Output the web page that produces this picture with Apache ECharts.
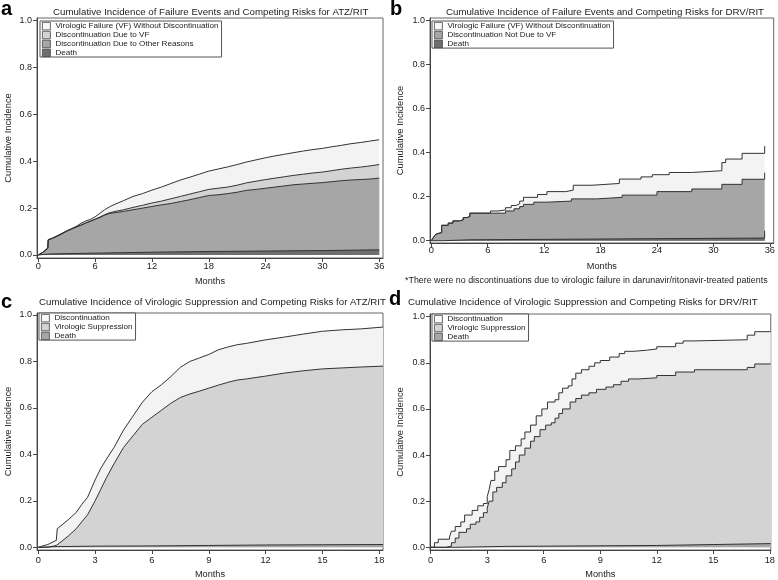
<!DOCTYPE html>
<html><head><meta charset="utf-8">
<script src="https://cdn.jsdelivr.net/npm/echarts@6/dist/echarts.min.js"></script>
<style>html,body{margin:0;padding:0;background:#fff}#c{width:778px;height:580px}</style>
</head><body><div id="c"></div>
<script>
const FONT = "'Liberation Sans', Arial, Helvetica, sans-serif";
const yTicks = [0, 0.2, 0.4, 0.6, 0.8, 1.0];
const xTicks36 = [0, 6, 12, 18, 24, 30, 36];
const xTicks18 = [0, 3, 6, 9, 12, 15, 18];

// Panel a: ATZ/RIT failure events (cumulative boundaries)
const aMonths = [0,0.5,1,1.05,1.5,2,2.5,3,3.5,4,4.5,5,5.5,6,6.5,7,7.5,8,9,10,11,12,13,14,15,16,17,18,19,20,21,22,23,24,25,26,27,28,29,30,31,32,33,34,35,36];
const aVF  = [0,0.012,0.03,0.065,0.072,0.082,0.092,0.103,0.112,0.122,0.135,0.145,0.152,0.163,0.178,0.193,0.205,0.215,0.232,0.25,0.262,0.277,0.29,0.305,0.32,0.332,0.345,0.358,0.367,0.376,0.386,0.397,0.406,0.415,0.423,0.43,0.437,0.444,0.45,0.455,0.462,0.468,0.475,0.48,0.486,0.492];
const aDVF = [0,0.012,0.03,0.065,0.072,0.082,0.092,0.103,0.112,0.12,0.128,0.137,0.145,0.153,0.162,0.172,0.18,0.185,0.193,0.203,0.212,0.222,0.23,0.24,0.25,0.26,0.27,0.28,0.285,0.29,0.298,0.308,0.315,0.322,0.328,0.334,0.34,0.345,0.35,0.354,0.36,0.366,0.371,0.375,0.38,0.386];
const aDOR = [0,0.012,0.028,0.064,0.071,0.08,0.09,0.101,0.11,0.119,0.127,0.136,0.144,0.152,0.16,0.17,0.177,0.18,0.186,0.193,0.2,0.207,0.214,0.22,0.228,0.236,0.245,0.254,0.257,0.262,0.268,0.276,0.28,0.285,0.29,0.295,0.3,0.303,0.306,0.309,0.313,0.317,0.32,0.322,0.324,0.328];
const aDeathMonths = [0,1,3,6,9,12,18,24,30,36];
const aDeath = [0,0.004,0.006,0.008,0.01,0.012,0.015,0.017,0.019,0.022];

// Panel b: DRV/RIT failure events (step functions)
const bTopT = [0,0.15,0.3,0.5,0.7,1.1,1.8,2.3,3.0,3.4,3.8,4.1,6.3,7.1,7.9,8.5,9.0,9.4,9.8,11.3,12.3,14.3,15.1,17.1,20.0,22.3,23.5,25.3,27.7,30.9,31.3,33.05,35.45];
const bTopV = [0,0.01,0.02,0.03,0.037,0.07,0.08,0.09,0.095,0.105,0.11,0.125,0.135,0.14,0.15,0.16,0.168,0.18,0.197,0.21,0.223,0.23,0.252,0.26,0.28,0.29,0.30,0.31,0.318,0.355,0.371,0.397,0.43];
const bDNT = [0,0.15,0.3,0.5,0.7,1.1,1.8,2.3,3.0,3.4,3.8,4.1,7.9,8.8,9.4,9.8,10.9,12.3,14.9,17.6,20.3,24.0,27.7,30.9,33.05,35.45];
const bDNV = [0,0.01,0.02,0.03,0.037,0.07,0.08,0.09,0.095,0.105,0.11,0.125,0.135,0.145,0.155,0.165,0.175,0.18,0.19,0.197,0.207,0.223,0.235,0.256,0.279,0.309];
const bDeathT = [0,1.3,4.0,35.45];
const bDeath = [0,0.004,0.012,0.045];

// Panel c: ATZ/RIT virologic suppression
const cMonths = [0,0.5,0.95,1.0,1.3,1.6,2.0,2.3,2.6,3.0,3.3,3.6,4.0,4.5,5.0,5.5,6.0,6.5,7.0,7.5,8.0,8.5,9.0,9.5,10.0,10.5,11.0,12.0,13.0,14.0,15.0,16.0,17.0,18.2];
const cDisc = [0,0.012,0.03,0.08,0.1,0.12,0.15,0.185,0.215,0.29,0.34,0.38,0.43,0.505,0.565,0.625,0.67,0.70,0.735,0.775,0.80,0.815,0.83,0.85,0.862,0.872,0.878,0.893,0.905,0.918,0.93,0.936,0.94,0.948];
const cVS = [0,0,0.008,0.012,0.03,0.05,0.08,0.11,0.14,0.2,0.25,0.3,0.36,0.43,0.48,0.53,0.56,0.59,0.62,0.645,0.66,0.672,0.685,0.698,0.71,0.72,0.725,0.737,0.75,0.76,0.768,0.772,0.776,0.78];
const cDeathMonths = [0,1,3,6,9,12,15,18.2];
const cDeath = [0,0.003,0.005,0.006,0.008,0.01,0.011,0.012];

// Panel d: DRV/RIT virologic suppression (step functions)
const dTopT = [0,0.2,0.4,1.0,1.1,1.3,1.6,1.8,2.2,2.5,2.8,3.0,3.1,3.2,3.4,3.6,4.0,4.2,4.5,4.8,5.0,5.3,5.6,5.9,6.2,6.6,6.8,7.0,7.3,7.5,7.7,8.0,8.4,8.7,9.0,9.5,10.0,10.3,10.8,11.5,12.0,13.0,13.4,14.0,16.8,17.2,18.05];
const dTopV = [0,0.02,0.035,0.045,0.07,0.09,0.11,0.14,0.16,0.18,0.19,0.22,0.25,0.29,0.33,0.35,0.38,0.42,0.44,0.47,0.50,0.53,0.57,0.60,0.63,0.64,0.67,0.69,0.70,0.73,0.755,0.77,0.785,0.80,0.81,0.825,0.84,0.85,0.855,0.86,0.87,0.885,0.895,0.90,0.92,0.935,0.935];
const dVST = [0,0.8,1.1,1.3,1.5,1.9,2.1,2.4,2.6,2.8,3.0,3.1,3.3,3.5,3.8,4.0,4.3,4.5,4.7,5.0,5.3,5.5,5.8,6.1,6.4,6.6,6.8,7.0,7.4,7.7,8.0,8.4,8.8,9.3,9.7,10.1,10.5,11.0,12.0,13.0,14.0,16.8,17.2,18.05];
const dVSV = [0,0.005,0.02,0.04,0.065,0.08,0.10,0.11,0.13,0.15,0.17,0.2,0.24,0.26,0.28,0.31,0.34,0.37,0.40,0.43,0.46,0.48,0.51,0.53,0.54,0.56,0.58,0.60,0.63,0.645,0.66,0.67,0.685,0.695,0.705,0.72,0.73,0.735,0.745,0.76,0.77,0.78,0.795,0.795];
const dDeathT = [0,1.3,4.0,12.0,18.05];
const dDeath = [0,0.004,0.008,0.016,0.016];

const titles = [
  'Cumulative Incidence of Failure Events and Competing Risks for ATZ/RIT',
  'Cumulative Incidence of Failure Events and Competing Risks for DRV/RIT',
  'Cumulative Incidence of Virologic Suppression and Competing Risks for ATZ/RIT',
  'Cumulative Incidence of Virologic Suppression and Competing Risks for DRV/RIT'
];
const footnote = '*There were no discontinuations due to virologic failure in darunavir/ritonavir-treated patients';

const C_WHITE = '#f3f3f3', C_LIGHT = '#d3d3d3', C_MID = '#a6a6a6', C_DARK = '#6e6e6e';

const grids = [
  {left: 37, top: 18, width: 346, height: 240},
  {left: 430, top: 18, width: 345, height: 225},
  {left: 37, top: 313, width: 346, height: 238},
  {left: 430, top: 314, width: 345, height: 237}
];
const xRange = [[-0.137, 36.4], [-0.138, 36.41], [-0.069, 18.2], [-0.037, 18.05]];
const yRange = [[-0.0128, 1.0115], [-0.0105, 1.012], [-0.0116, 1.0086], [-0.0117, 1.0117]];
const xLabelMargin = [4, 3, 6, 6];
const xNameGap = [19, 19, 20, 20];

const txt = {fontFamily: FONT, color: '#222'};

function zip(xs, ys) { return xs.map((x, i) => [x, ys[i]]); }
function area(name, idx, xs, ys, color, step) {
  return {
    name, type: 'line', xAxisIndex: idx, yAxisIndex: idx, data: zip(xs, ys),
    step: step ? 'end' : false, showSymbol: false, symbol: 'none', silent: true,
    itemStyle: {color}, lineStyle: {color: '#333', width: 1},
    areaStyle: {color, opacity: 1}
  };
}

const xAxis = grids.map((g, i) => ({
  type: 'value', gridIndex: i, min: xRange[i][0], max: xRange[i][1],
  name: 'Months', nameLocation: 'middle', nameGap: xNameGap[i],
  nameTextStyle: Object.assign({fontSize: 9.2}, txt),
  axisLine: {show: true, onZero: false, lineStyle: {color: '#444', width: 1}},
  axisTick: {show: true, length: 4, lineStyle: {color: '#444'}, customValues: i < 2 ? xTicks36 : xTicks18},
  axisLabel: Object.assign({fontSize: 9.3, margin: xLabelMargin[i], customValues: i < 2 ? xTicks36 : xTicks18, showMinLabel: true, showMaxLabel: true}, txt),
  splitLine: {show: false}
}));
const yAxis = grids.map((g, i) => ({
  type: 'value', gridIndex: i, min: yRange[i][0], max: yRange[i][1],
  name: 'Cumulative Incidence', nameLocation: 'middle', nameGap: i % 2 ? 25 : 24,
  nameTextStyle: Object.assign({fontSize: 9.4}, txt),
  axisLine: {show: true, onZero: false, lineStyle: {color: '#444', width: 1}},
  axisTick: {show: true, length: 4, lineStyle: {color: '#444'}, customValues: yTicks},
  axisLabel: Object.assign({fontSize: 9, margin: 5, customValues: yTicks, formatter: v => v.toFixed(1)}, txt),
  splitLine: {show: false}
}));

const series = [
  area('Virologic Failure (VF) Without Discontinuation', 0, aMonths, aVF, C_WHITE, false),
  area('Discontinuation Due to VF', 0, aMonths, aDVF, C_LIGHT, false),
  area('Discontinuation Due to Other Reasons', 0, aMonths, aDOR, C_MID, false),
  area('Death', 0, aDeathMonths, aDeath, C_DARK, false),

  area('Virologic Failure (VF) Without Discontinuation', 1, bTopT, bTopV, C_WHITE, true),
  area('Discontinuation Not Due to VF', 1, bDNT, bDNV, C_MID, true),
  area('Death', 1, bDeathT, bDeath, C_DARK, true),

  area('Discontinuation', 2, cMonths, cDisc, C_WHITE, false),
  area('Virologic Suppression', 2, cMonths, cVS, C_LIGHT, false),
  area('Death', 2, cDeathMonths, cDeath, C_MID, false),

  area('Discontinuation', 3, dTopT, dTopV, C_WHITE, true),
  area('Virologic Suppression', 3, dVST, dVSV, C_LIGHT, true),
  area('Death', 3, dDeathT, dDeath, C_MID, true)
];

function legend(left, top, items) {
  return {
    left, top, orient: 'vertical', icon: 'rect', itemWidth: 8, itemHeight: 7.5, itemGap: 0.6,
    padding: [1, 3, 0, 2], borderColor: '#555', borderWidth: 1, backgroundColor: '#fff',
    selectedMode: false, textStyle: Object.assign({fontSize: 8.1, lineHeight: 8}, txt),
    lineStyle: {width: 0, opacity: 0},
    data: items.map(([name, color]) => ({name, itemStyle: {color, borderColor: '#444', borderWidth: 0.8}}))
  };
}

const option = {
  animation: false,
  backgroundColor: '#fff',
  grid: grids.map(g => Object.assign({show: true, borderColor: '#666', borderWidth: 1, backgroundColor: 'transparent', containLabel: false}, g)),
  title: [
    {text: titles[0], left: 53, top: 7, padding: 0, textStyle: Object.assign({fontSize: 9.7, fontWeight: 'normal'}, txt)},
    {text: titles[1], left: 446, top: 7, padding: 0, textStyle: Object.assign({fontSize: 9.7, fontWeight: 'normal'}, txt)},
    {text: titles[2], left: 39, top: 297, padding: 0, textStyle: Object.assign({fontSize: 9.7, fontWeight: 'normal'}, txt)},
    {text: titles[3], left: 408, top: 297, padding: 0, textStyle: Object.assign({fontSize: 9.7, fontWeight: 'normal'}, txt)},
    {text: 'a', left: 1, top: -1, padding: 0, textStyle: Object.assign({fontSize: 20, fontWeight: 'bold'}, txt, {color: '#000'})},
    {text: 'b', left: 390, top: -1, padding: 0, textStyle: Object.assign({fontSize: 20, fontWeight: 'bold'}, txt, {color: '#000'})},
    {text: 'c', left: 1, top: 292, padding: 0, textStyle: Object.assign({fontSize: 20, fontWeight: 'bold'}, txt, {color: '#000'})},
    {text: 'd', left: 389, top: 289, padding: 0, textStyle: Object.assign({fontSize: 20, fontWeight: 'bold'}, txt, {color: '#000'})},
    {text: footnote, left: 405, top: 276, padding: 0, textStyle: Object.assign({fontSize: 8.9, fontWeight: 'normal'}, txt)}
  ],
  legend: [
    legend(40, 21, [['Virologic Failure (VF) Without Discontinuation', '#f8f8f8'], ['Discontinuation Due to VF', C_LIGHT], ['Discontinuation Due to Other Reasons', C_MID], ['Death', C_DARK]]),
    legend(432, 21, [['Virologic Failure (VF) Without Discontinuation', '#f8f8f8'], ['Discontinuation Not Due to VF', C_MID], ['Death', C_DARK]]),
    legend(39, 313, [['Discontinuation', '#f8f8f8'], ['Virologic Suppression', C_LIGHT], ['Death', C_MID]]),
    legend(432, 314, [['Discontinuation', '#f8f8f8'], ['Virologic Suppression', C_LIGHT], ['Death', C_MID]])
  ],
  xAxis, yAxis, series
};

const chart = echarts.init(document.getElementById('c'));
chart.setOption(option);
</script>
</body></html>
